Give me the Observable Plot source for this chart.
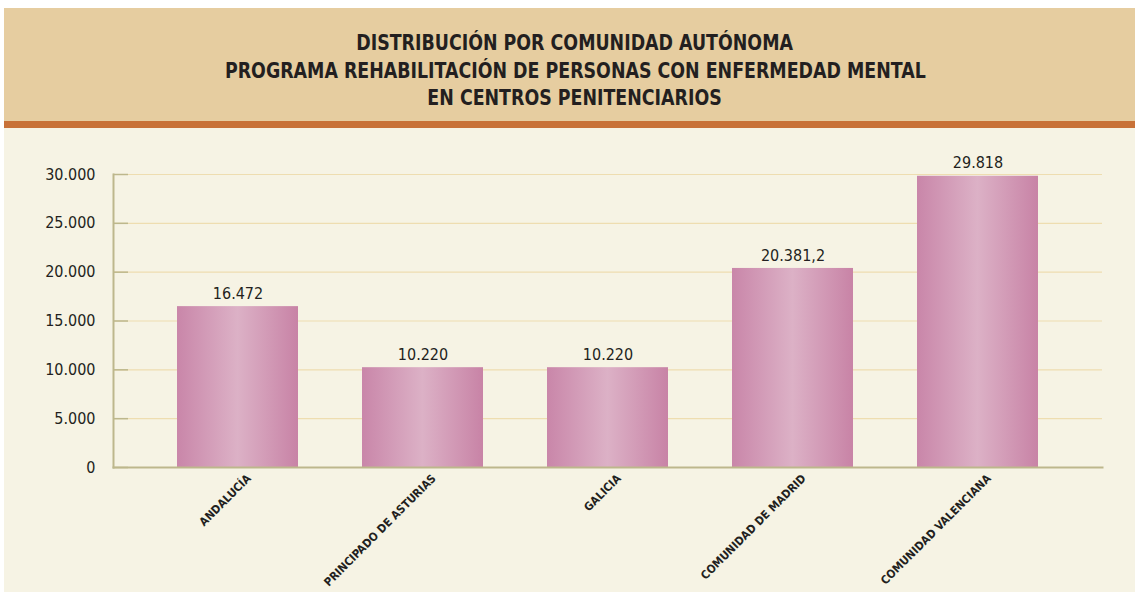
<!DOCTYPE html>
<html>
<head>
<meta charset="utf-8">
<script src="https://cdn.jsdelivr.net/npm/d3@7"></script>
<script src="https://cdn.jsdelivr.net/npm/@observablehq/plot@0.6"></script>
<style>
  html, body { margin: 0; padding: 0; background: #ffffff; }
  body { width: 1135px; height: 592px; overflow: hidden; }
  #wrap { position: absolute; left: 4px; top: 8px; width: 1131px; }
  #header {
    height: 113px; background: #E6CDA0; box-sizing: border-box;
    padding-left: 11px; padding-top: 21px;
    font-family: "Liberation Sans Narrow", "Arial Narrow", "DejaVu Sans Condensed", sans-serif;
    font-weight: bold; font-size: 21.5px; color: #231F20; text-align: center; line-height: 27.5px;
  }
  #header span { display: inline-block; transform: scaleX(0.9); transform-origin: center; }
  #stripe { height: 7px; background: #C87137; }
  #chart { background: #F6F3E4; height: 464px; }
  #chart svg { display: block; }
</style>
</head>
<body>
<div id="wrap">
  <div id="header">
    <div><span>DISTRIBUCIÓN POR COMUNIDAD AUTÓNOMA</span></div>
    <div><span>PROGRAMA REHABILITACIÓN DE PERSONAS CON ENFERMEDAD MENTAL</span></div>
    <div><span>EN CENTROS PENITENCIARIOS</span></div>
  </div>
  <div id="stripe"></div>
  <div id="chart"></div>
</div>
<script>
const categories = ["ANDALUCÍA", "PRINCIPADO DE ASTURIAS", "GALICIA", "COMUNIDAD DE MADRID", "COMUNIDAD VALENCIANA"];
const values = [16472, 10220, 10220, 20381.2, 29818];
const yTicks = [0, 5000, 10000, 15000, 20000, 25000, 30000];

const data = categories.map((c, i) => ({cat: c, value: values[i]}));
const loc = d3.formatLocale({decimal: ",", thousands: ".", grouping: [3], currency: ["", "€"]});
const fmtVal = loc.format(",.1~f");
const fmtTick = loc.format(",.0f");
const font = '"Liberation Sans Narrow", "Arial Narrow", "DejaVu Sans Condensed", sans-serif';
const axisColor = "#BDB78C";

const chart = Plot.plot({
  width: 1131,
  height: 464,
  marginTop: 46,
  marginBottom: 125,
  marginLeft: 109,
  marginRight: 33,
  style: {background: "transparent", fontFamily: font, color: "#231F20"},
  x: {domain: categories, paddingInner: 0.346, paddingOuter: 0.346, round: false, axis: null},
  y: {domain: [0, 30000], axis: null},
  marks: [
    Plot.gridY(yTicks, {stroke: "#EEDDB0", strokeOpacity: 1, strokeWidth: 1.2}),
    Plot.axisY(yTicks, {tickSize: -15, tickFormat: () => "", stroke: axisColor, strokeWidth: 1.5, label: null}),
    Plot.barY(data, {x: "cat", y: "value", fill: "url(#barGrad)"}),
    Plot.frame({anchor: "left", stroke: axisColor, strokeWidth: 2}),
    Plot.frame({anchor: "bottom", stroke: axisColor, strokeWidth: 2}),
    Plot.axisY(yTicks, {tickSize: 0, tickPadding: 18, tickFormat: fmtTick, fontSize: 16, fill: "#231F20", label: null}),
    Plot.text(data, {x: "cat", y: "value", text: d => fmtVal(d.value), dy: -13, fontSize: 16, fill: "#231F20"}),
    Plot.text(data, {x: "cat", y: 0, text: "cat", rotate: -45, textAnchor: "end", dx: 11, dy: 9, fontSize: 11.5, fontWeight: "bold", fill: "#231F20"})
  ]
});

const svg = d3.select(chart);
const defs = svg.insert("defs", ":first-child");
const g = defs.append("linearGradient").attr("id", "barGrad").attr("x1", "0").attr("x2", "1").attr("y1", "0").attr("y2", "0");
g.append("stop").attr("offset", "0").attr("stop-color", "#C986A9");
g.append("stop").attr("offset", "0.5").attr("stop-color", "#DCB1C6");
g.append("stop").attr("offset", "1").attr("stop-color", "#C883A6");

document.getElementById("chart").appendChild(chart);
</script>
</body>
</html>
